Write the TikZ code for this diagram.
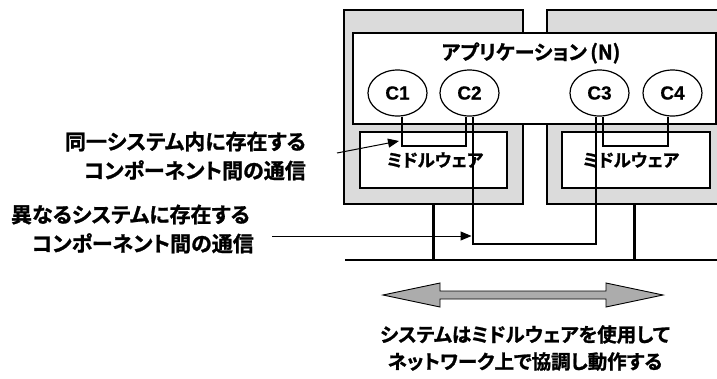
\documentclass[tikz,border=0pt]{standalone}
\usepackage{fontspec}
\newfontfamily\jp{Noto Sans CJK JP Bold}[RawFeature=+palt, FakeBold=1.2]
\newfontfamily\lat{Liberation Sans}[FakeBold=0.5]
\usetikzlibrary{shapes.geometric,arrows.meta}
\tikzset{
  sysbox/.style={draw=black, line width=2.5pt, fill=gray!28, inner sep=0pt},
  appbox/.style={draw=black, line width=2.4pt, fill=white, inner sep=0pt},
  mwbox/.style={draw=black, line width=1.8pt, fill=white, inner sep=0pt, font=\jp\fontsize{17.5}{20}\selectfont},
  comp/.style={draw=black, line width=1.2pt, fill=white, ellipse, inner sep=0pt, minimum width=59pt, minimum height=46pt, font=\lat\bfseries\fontsize{19}{20}\selectfont},
  conn/.style={draw=black, line width=2.8pt},
  netline/.style={draw=black, line width=2.6pt},
  thinarrow/.style={draw=black, line width=1pt, -{Triangle[length=11pt,width=9pt]}},
  lbl/.style={font=\jp\fontsize{21}{29}\selectfont, align=right, inner sep=0pt},
}
\begin{document}
\begin{tikzpicture}[x=1pt,y=-1pt]
\useasboundingbox (0,0) rectangle (717,378);
\clip (0,0) rectangle (717,378);
% system boxes
\node[sysbox, minimum width=179pt, minimum height=194pt] (sysL) at (433.5,107) {};
\node[sysbox, minimum width=175pt, minimum height=194pt] (sysR) at (634.5,107) {};
% application box
\node[appbox, minimum width=363pt, minimum height=91pt] (app) at (534.5,78.5) {};
\node[font=\jp\fontsize{20}{22}\selectfont, inner sep=0pt] (title) at (531,53) {アプリケーション\,(N)};
% middleware
\node[mwbox, minimum width=147pt, minimum height=56pt] (mwL) at (433.5,160) {\hspace*{3pt}ミドルウェア};
\node[mwbox, minimum width=148pt, minimum height=56pt] (mwR) at (636,160) {ミドルウェア\hspace*{10pt}};
% components
\node[comp] (C1) at (397.5,93) {C1};
\node[comp] (C2) at (469.5,93) {C2};
\node[comp] (C3) at (599.5,93) {C3};
\node[comp] (C4) at (672.5,93) {C4};
\coordinate (c1b) at ([xshift=4.5pt]C1.south);
\coordinate (c2a) at ([xshift=-3.5pt]C2.south);
\coordinate (c2b) at ([xshift=3.5pt]C2.south);
\coordinate (c3a) at ([xshift=-3.5pt]C3.south);
\coordinate (c3b) at ([xshift=3.5pt]C3.south);
\coordinate (c4b) at ([xshift=-4.5pt]C4.south);
\coordinate (j1) at (0,146);
\coordinate (j2) at (0,244);
% network
\coordinate (netL) at (345,260);
\coordinate (netR) at (720,260);
\draw[netline] (netL) -- (netR);
\draw[netline] (sysL.south) -- (sysL.south |- netL);
\draw[netline] (sysR.south) -- (sysR.south |- netL);
% connections
\draw[conn] (c1b) -- (c1b |- j1) -| (c2a);
\draw[conn] (c3b) -- (c3b |- j1) -| (c4b);
\draw[conn] (c2b) -- (c2b |- j2) -| (c3a);
% labels
\node[lbl, anchor=east] (L1) at (306,156) {同一システム内に存在する\\コンポーネント間の通信};
\node[lbl, anchor=east] (L2) at (250,229) {異なるシステムに存在する\\コンポーネント間の通信\hspace*{-4pt}};
\coordinate (a1s) at (337,153);
\coordinate (a1e) at (399,141);
\draw[thinarrow] (a1s) -- (a1e);
\coordinate (a2s) at (272,236);
\draw[thinarrow] (a2s) -- ([xshift=-1.5pt]c2b |- a2s);
% big double arrow
\draw[draw=black, line width=0.9pt, fill=gray!65]
  (383,295) -- (440,283) -- (440,291) -- (606,291) -- (606,283) -- (663,295)
  -- (606,307) -- (606,299) -- (440,299) -- (440,307) -- cycle;
\node[font=\jp\fontsize{19.5}{27}\selectfont, align=center, inner sep=0pt] (bottom) at (525,348) {システムはミドルウェアを使用して\\ネットワーク上で協調し動作する};
\end{tikzpicture}
\end{document}
